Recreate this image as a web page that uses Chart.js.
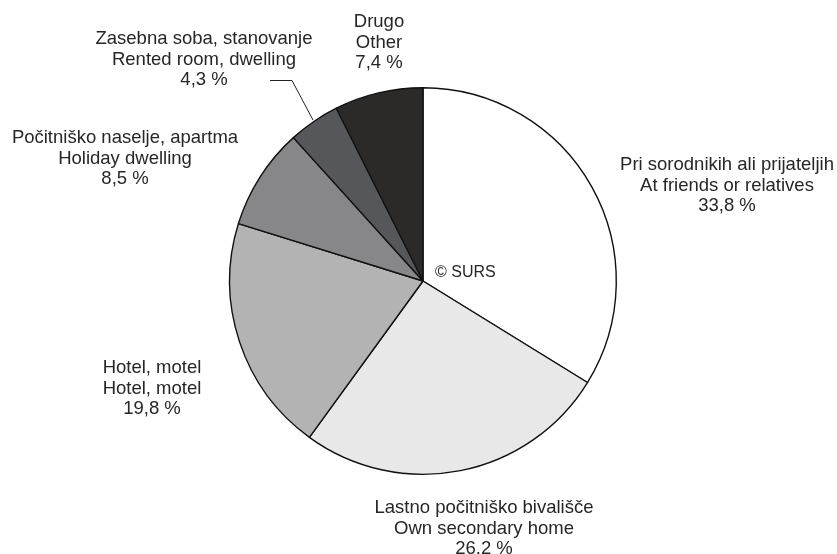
<!DOCTYPE html>
<html>
<head>
<meta charset="utf-8">
<script src="https://cdn.jsdelivr.net/npm/chart.js@4"></script>
<style>
html,body{margin:0;padding:0;background:#fff;}
#wrap{width:837px;height:554px;position:relative;}
</style>
</head>
<body>
<div id="wrap"><canvas id="c" width="837" height="554"></canvas></div>
<script>
const categoriesSl = ["Pri sorodnikih ali prijateljih","Lastno počitniško bivališče","Hotel, motel","Počitniško naselje, apartma","Zasebna soba, stanovanje","Drugo"];
const categoriesEn = ["At friends or relatives","Own secondary home","Hotel, motel","Holiday dwelling","Rented room, dwelling","Other"];
const shares = [33.8, 26.2, 19.8, 8.5, 4.3, 7.4];
const shareLabels = ["33,8 %","26.2 %","19,8 %","8,5 %","4,3 %","7,4 %"];

const colors = ["#ffffff","#e8e8e8","#b3b3b3","#87878a","#56575a","#2b2a29"];
// label anchor positions (centre x, first-line y)
const labelPos = [[727,165],[484,508],[152,368],[125,138],[204,39],[379,22]];

const labelPlugin = {
  id:'outLabels',
  afterDraw(chart){
    const ctx = chart.ctx;
    ctx.save();
    ctx.font = '18.5px "Liberation Sans", Arial, sans-serif';
    ctx.fillStyle = '#262626';
    ctx.textAlign = 'center';
    ctx.textBaseline = 'middle';
    const lh = 20.7;
    shares.forEach((v,i)=>{
      const [x,y] = labelPos[i];
      ctx.fillText(categoriesSl[i], x, y);
      ctx.fillText(categoriesEn[i], x, y+lh);
      ctx.fillText(shareLabels[i], x, y+2*lh);
    });
    // leader line for small slice
    ctx.strokeStyle = '#222';
    ctx.lineWidth = 1;
    ctx.beginPath();
    ctx.moveTo(270,80.5);
    ctx.lineTo(292,80.5);
    ctx.lineTo(313,120);
    ctx.stroke();
    // copyright
    ctx.textAlign = 'left';
    ctx.font = '16px "Liberation Sans", Arial, sans-serif';
    ctx.fillText('© SURS', 435, 273);
    ctx.restore();
  }
};

new Chart(document.getElementById('c'), {
  type:'pie',
  data:{
    labels: categoriesEn,
    datasets:[{
      data: shares,
      backgroundColor: colors,
      borderColor:'#111',
      borderWidth:1.4,
      borderAlign:'center'
    }]
  },
  options:{
    responsive:false,
    animation:false,
    layout:{padding:{top:87,bottom:79,left:229,right:220}},
    plugins:{legend:{display:false},tooltip:{enabled:false}}
  },
  plugins:[labelPlugin]
});
</script>
</body>
</html>
